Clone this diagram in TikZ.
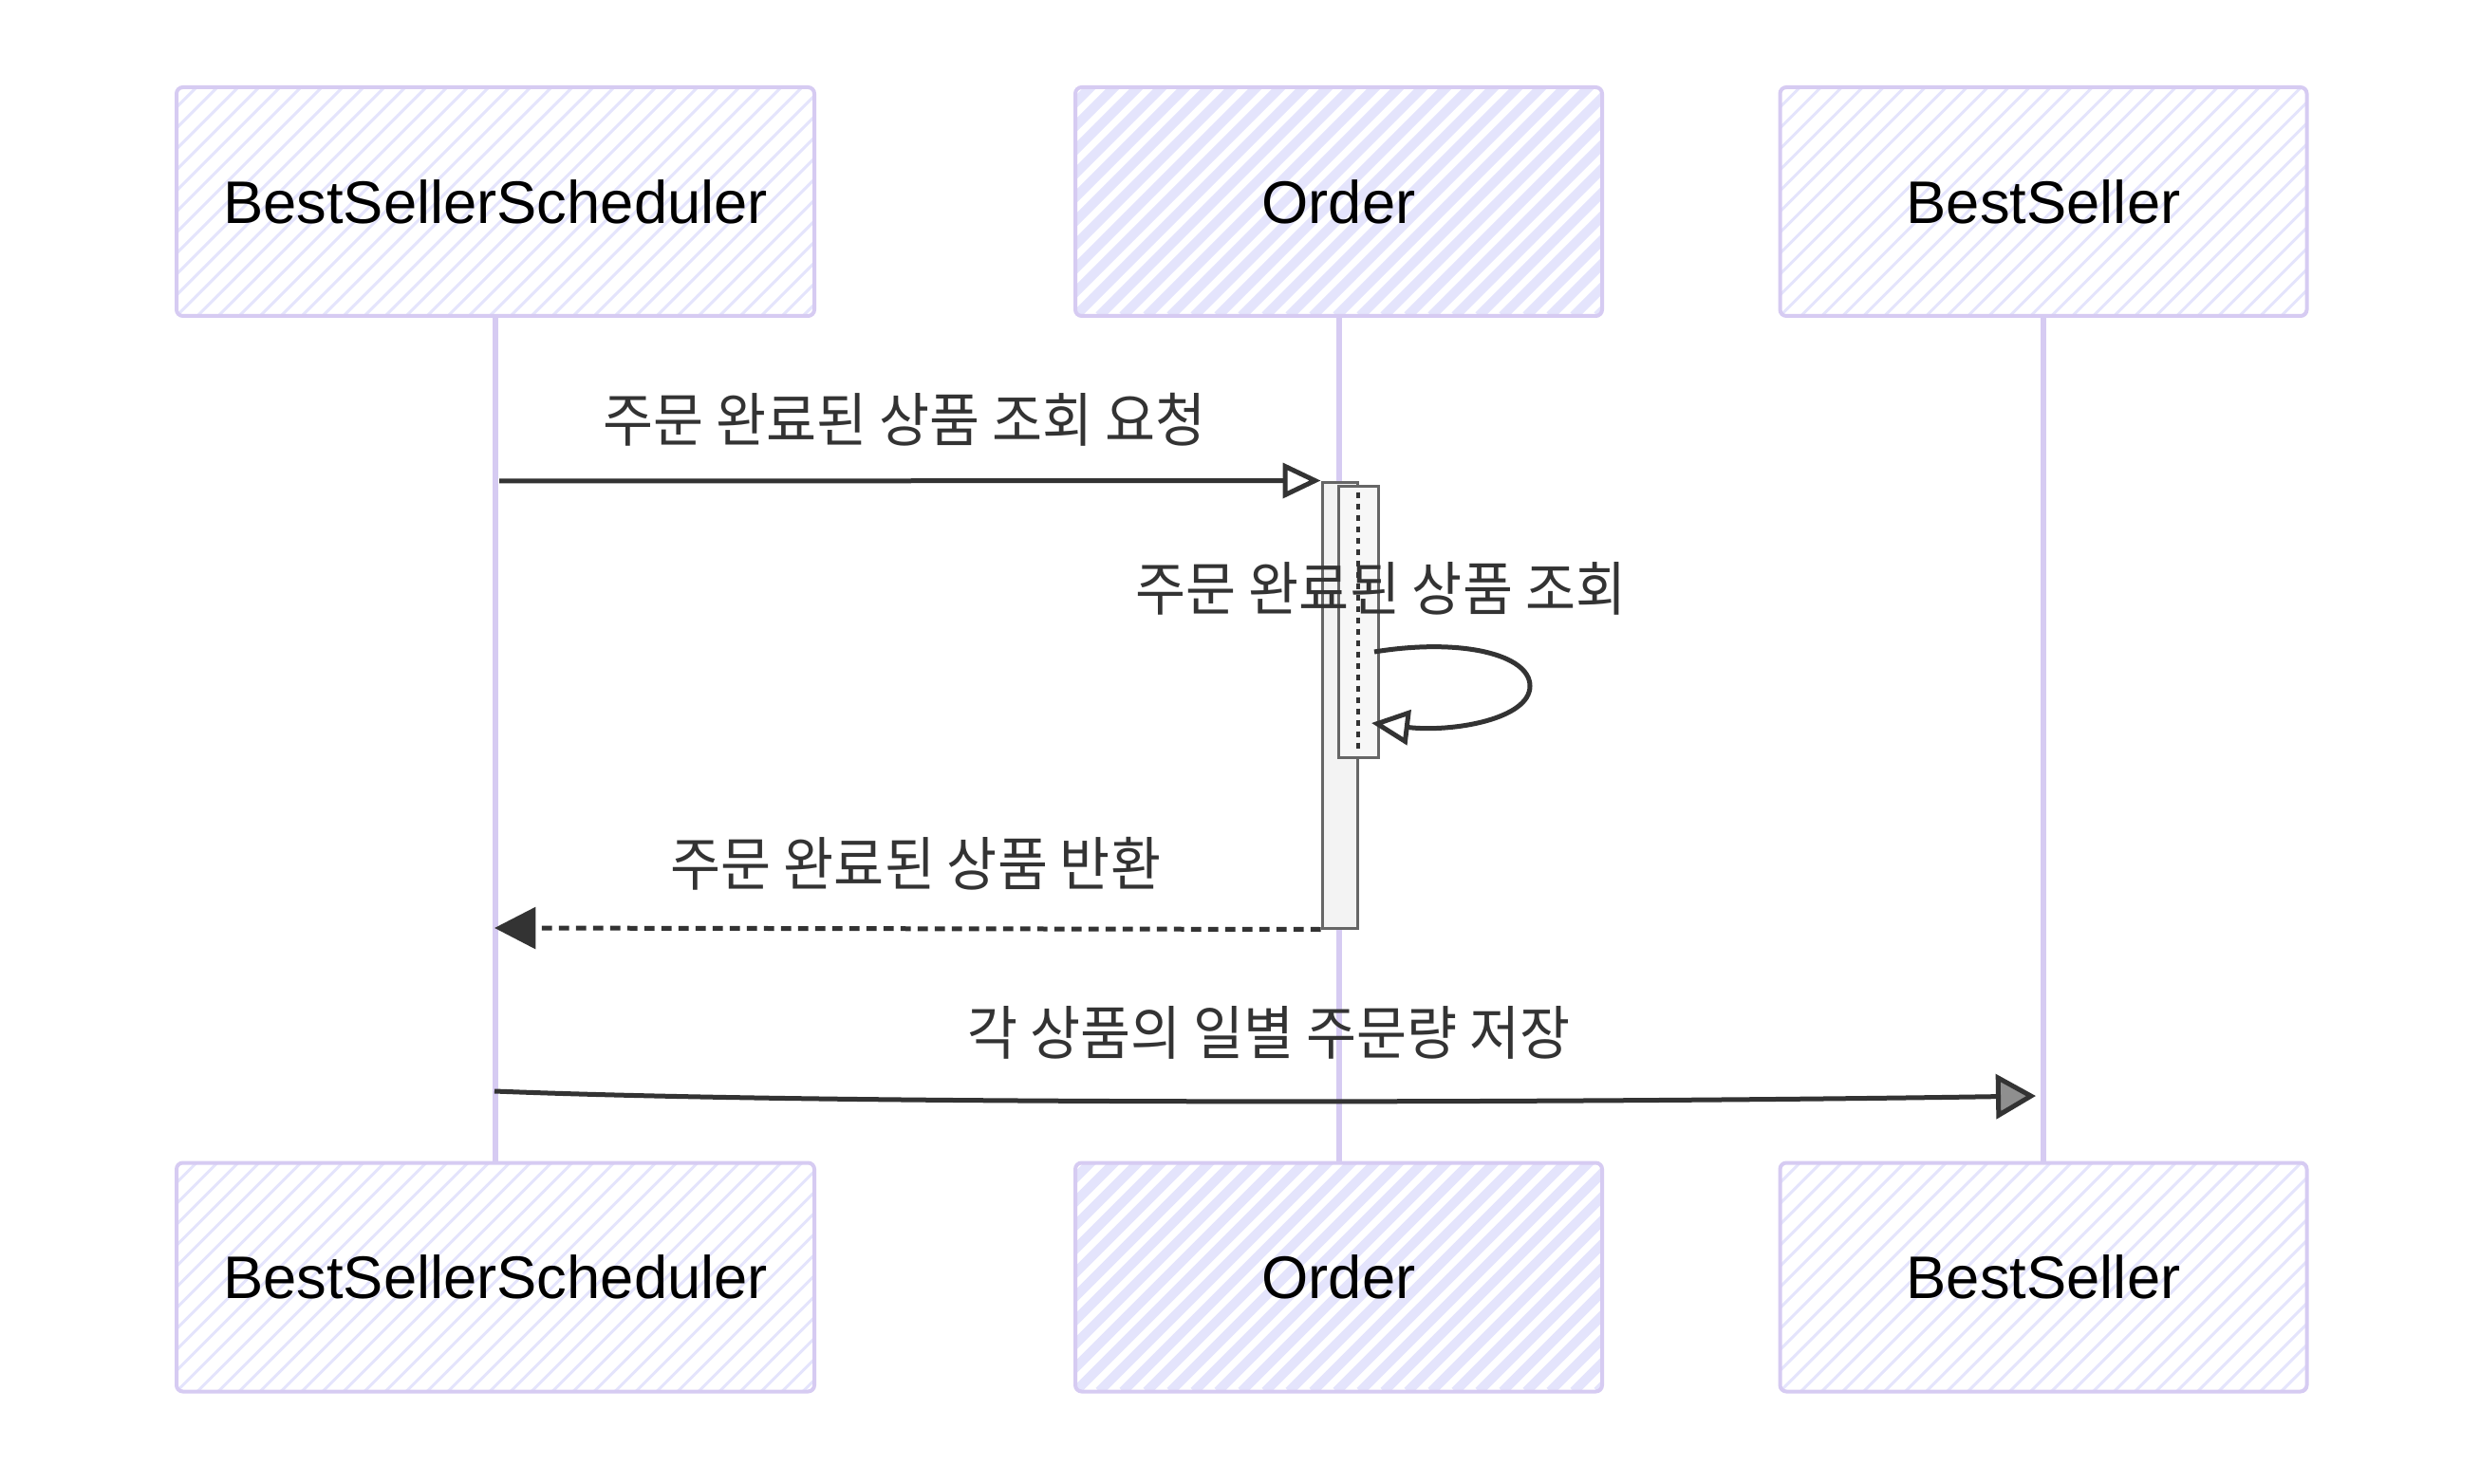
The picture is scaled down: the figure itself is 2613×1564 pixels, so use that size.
\documentclass[tikz,border=0pt]{standalone}
\usepackage{fontspec}
\setmainfont{Liberation Sans}
\newfontfamily\krfont{Noto Sans CJK KR}
\usetikzlibrary{arrows.meta,calc}
\definecolor{boxline}{HTML}{D6CBF2}
\definecolor{hatchc}{HTML}{E4E4FC}
\definecolor{lifec}{HTML}{D6CBF2}
\definecolor{ink}{HTML}{333333}
\definecolor{actline}{HTML}{666666}
\definecolor{actfill}{HTML}{F3F3F3}
\newcommand{\kl}[1]{\scalebox{0.935}[1]{#1}}
\tikzset{
  actor/.style={draw=boxline, line width=1.2pt, rounded corners=2pt, inner sep=0pt,
    text=black, font=\fontsize{19}{22}\selectfont, minimum height=72.3pt},
  hatchthin/.style={path picture={
    \foreach \k in {-12,...,34}{
      \draw[hatchc, line width=0.9pt] ($(path picture bounding box.south west)+(\k*22,0)$) -- ++(270,-270);
    }}},
  hatchthick/.style={path picture={
    \foreach \k in {-12,...,30}{
      \draw[hatchc, line width=3pt] ($(path picture bounding box.south west)+(\k*25,0)$) -- ++(270,-270);
    }}},
  lifeline/.style={lifec, line width=1.8pt},
  act/.style={draw=actline, fill=actfill, line width=0.9pt, inner sep=0pt},
  msg/.style={ink, line width=1.5pt},
  lbl/.style={text=ink, font=\krfont\fontsize{18.5}{22}\selectfont, inner sep=0pt},
  opentip/.style={-{Triangle[open, length=12pt, width=11pt]}},
}
\begin{document}
\begin{tikzpicture}[x=0.3pt, y=-0.3pt]
\useasboundingbox (0,0) rectangle (2613,1564);

% actors top
\node[actor, hatchthin, minimum width=201.6pt] (schedT) at (522,212.5) {BestSellerScheduler};
\node[actor, hatchthick, minimum width=166.5pt] (orderT) at (1410.5,212.5) {Order};
\node[actor, hatchthin, minimum width=166.5pt] (bestT) at (2153,212.5) {BestSeller};
% actors bottom
\node[actor, hatchthin, minimum width=201.6pt] (schedB) at (522,1346) {BestSellerScheduler};
\node[actor, hatchthick, minimum width=166.5pt] (orderB) at (1410.5,1346) {Order};
\node[actor, hatchthin, minimum width=166.5pt] (bestB) at (2153,1346) {BestSeller};

% lifelines
\draw[lifeline] (schedT.south) -- (schedB.north);
\draw[lifeline] (orderT.south) -- (orderB.north);
\draw[lifeline] (bestT.south) -- (bestB.north);

% activations
\node[act, minimum width=11.1pt, minimum height=141pt] (act1) at (1411.5,743) {};
\node[act, fill=actfill!70, minimum width=12.6pt, minimum height=85.8pt] (act2) at (1431,655) {};
\draw[ink, line width=1.2pt, dash pattern=on 2pt off 1.6pt] ($(act2.north)+(0,8)$) -- ($(act2.south)+(0,-8)$);

% message 1
\coordinate (m1s) at (526,507);
\draw[msg, opentip] (m1s) -- (act1.north west);
\node[lbl] (l1) at (953,442) {\kl{주문 완료된 상품 조회 요청}};

% self message
\coordinate (lp1) at (1448,687);
\coordinate (lp2) at (1445,762);
\draw[msg, opentip] (lp1) .. controls (1540,672) and (1612,690) .. (1612,723)
  .. controls (1612,758) and (1530,772) .. (lp2);
\node[lbl] (l2) at (1455,620) {\kl{주문 완료된 상품 조회}};

% return message
\coordinate (r1e) at (521,978);
\draw[msg, dash pattern=on 3.2pt off 2.2pt, -{Triangle[length=13pt, width=13pt]}] (act1.south west) -- (r1e);
\node[lbl] (l3) at (965,910) {\kl{주문 완료된 상품 반환}};

% message 3
\coordinate (m3s) at (521,1150);
\coordinate (m3e) at (2145,1155);
\draw[msg, -{Triangle[length=12.6pt, width=14pt, fill=ink!55]}] (m3s) .. controls (900,1165) and (1700,1162) .. (m3e);
\node[lbl] (l4) at (1337,1088) {\kl{각 상품의 일별 주문량 저장}};
\end{tikzpicture}
\end{document}
